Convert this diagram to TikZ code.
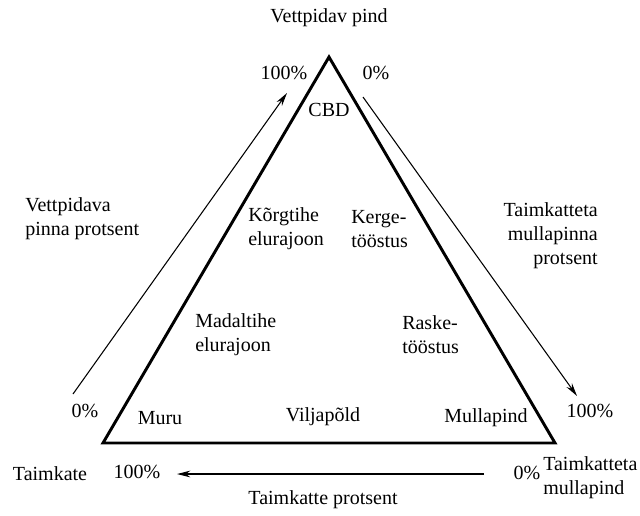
\documentclass[tikz,border=0pt]{standalone}
\usepackage{fontspec}
\setmainfont{Liberation Serif}
\usetikzlibrary{arrows.meta}
\begin{document}
\begin{tikzpicture}[x=0.75pt,y=-0.75pt,
  lbl/.style={font=\fontsize{15}{18}\selectfont, inner sep=0pt},
  lblL/.style={lbl, align=left, anchor=west},
  lblR/.style={lbl, align=right, anchor=east},
  tri/.style={line width=2.2pt, line join=miter},
  arr/.style={line width=0.8pt, -{Stealth[length=10pt,width=5pt]}}]
\useasboundingbox (0,0) rectangle (640,515);
% triangle
\coordinate (A) at (329,57);
\coordinate (B) at (103,443);
\coordinate (C) at (555,443);
\draw[tri] (A) -- (B) -- (C) -- cycle;
% arrows
\coordinate (l1) at (73,394);
\coordinate (l2) at (287,93);
\coordinate (r1) at (363,97);
\coordinate (r2) at (577,396);
\coordinate (b1) at (484,474);
\coordinate (b2) at (177,474);
\draw[arr] (l1) -- (l2);
\draw[arr] (r1) -- (r2);
\draw[arr] (b1) -- (b2);
% labels
\node[lbl] (top) at (329,18) {Vettpidav pind};
\node[lbl] (tl) at (284,73) {100\%};
\node[lbl] (tr) at (376,73) {0\%};
\node[lbl] (cbd) at (329,110) {CBD};
\node[lblL] (vp) at (25,219) {Vettpidava\\pinna protsent};
\node[lblL] (kt) at (248,229) {Kõrgtihe\\elurajoon};
\node[lblL] (kg) at (351,229) {Kerge-\\tööstus};
\node[lblR] (tm) at (598,236) {Taimkatteta\\mullapinna\\protsent};
\node[lblL] (mt) at (195,335) {Madaltihe\\elurajoon};
\node[lblL] (rt) at (402,335) {Raske-\\tööstus};
\node[lbl] (l0) at (85,411) {0\%};
\node[lbl] (r100) at (590,411) {100\%};
\node[lbl] (muru) at (160,418) {Muru};
\node[lbl] (vilja) at (323,417) {Viljapõld};
\node[lbl] (mulla) at (486,418) {Mullapind};
\node[lbl] (taim) at (50,474) {Taimkate};
\node[lbl] (b100) at (137,472) {100\%};
\node[lbl] (b0) at (527,473) {0\%};
\node[lblL] (tmp) at (543,478) {Taimkatteta\\mullapind};
\node[lbl] (tp) at (323,500) {Taimkatte protsent};
\end{tikzpicture}
\end{document}
